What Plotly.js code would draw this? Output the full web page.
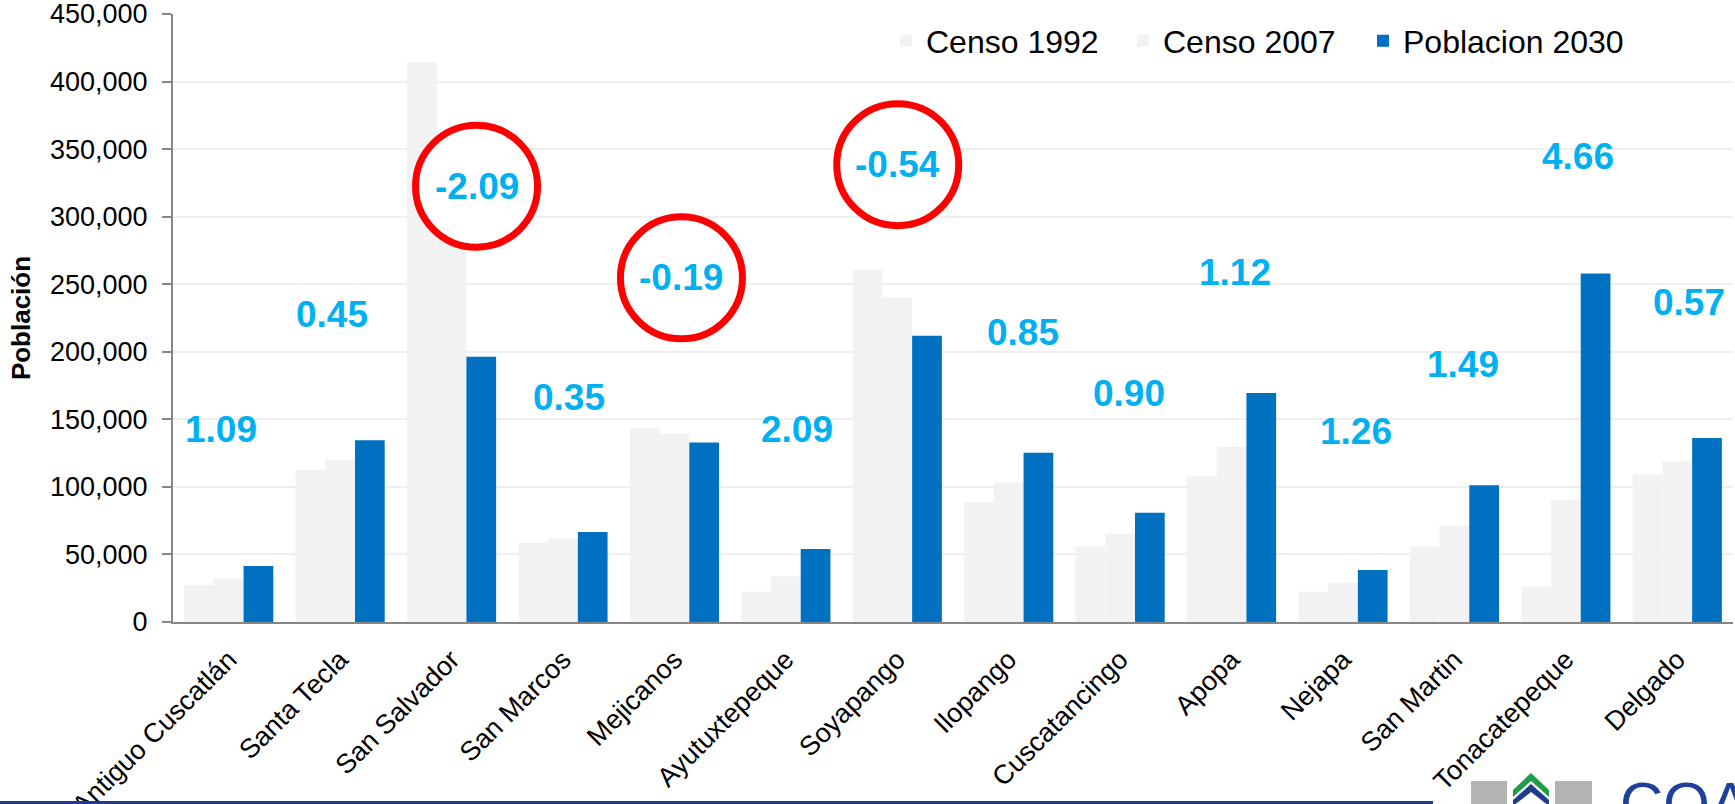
<!DOCTYPE html>
<html>
<head>
<meta charset="utf-8">
<script src="https://cdn.plot.ly/plotly-3.0.1.min.js"></script>
<style>
html,body{margin:0;padding:0;background:#fff;}
#chart{width:1735px;height:804px;}
</style>
</head>
<body>
<div id="chart"></div>
<script>
// ---- data ----
const categories = ['Antiguo Cuscatlán','Santa Tecla','San Salvador','San Marcos','Mejicanos','Ayutuxtepeque','Soyapango','Ilopango','Cuscatancingo','Apopa','Nejapa','San Martin','Tonacatepeque','Delgado'];
const censo1992 = [27400, 112700, 414200, 58700, 143800, 22500, 260900, 88800, 55800, 107800, 22500, 55800, 25700, 109200];
const censo2007 = [32300, 120300, 316000, 61700, 139300, 33600, 240400, 103100, 65400, 129700, 28900, 71500, 90500, 118900];
const poblacion2030 = [41400, 134600, 196300, 66600, 132900, 54000, 211800, 125300, 80900, 169400, 38500, 101300, 257900, 136100];
const tasas = ['1.09','0.45','-2.09','0.35','-0.19','2.09','-0.54','0.85','0.90','1.12','1.26','1.49','4.66','0.57'];
const circled = ['San Salvador','Mejicanos','Soyapango'];
const seriesNames = ['Censo 1992','Censo 2007','Poblacion 2030'];
const yTickVals = [0,50000,100000,150000,200000,250000,300000,350000,400000,450000];

// ---- label placement (annotation positions, in axis units) ----
const labelX = [-0.072, 0.926, 2.224, 3.052, 4.063, 5.098, 6.004, 7.129, 8.081, 9.035, 10.121, 11.077, 12.11, 13.105];
const labelY = [142700, 227900, 322500, 166000, 254700, 142500, 338500, 214000, 168900, 258400, 141300, 190600, 344700, 236500];

// ---- layout geometry ----
const W = 1735, H = 804;
const M = {l:173, r:2, t:14, b:182};
const PW = W - M.l - M.r, PH = H - M.t - M.b;
const px = x => (x - M.l) / PW;      // pixel -> paper x
const py = y => (H - M.b - y) / PH;  // pixel -> paper y

const FONT = 'Liberation Sans, Arial, sans-serif';
const GRAY = '#F2F2F2', BLUE = '#0070C0', LABEL = '#00B0F0';

const traces = [
  {type:'bar', name:seriesNames[0], x:categories, y:censo1992, marker:{color:GRAY}, legend:'legend'},
  {type:'bar', name:seriesNames[1], x:categories, y:censo2007, marker:{color:GRAY}, legend:'legend2'},
  {type:'bar', name:seriesNames[2], x:categories, y:poblacion2030, marker:{color:BLUE}, legend:'legend3'}
];

const annotations = tasas.map((t,i) => ({
  x: labelX[i], y: labelY[i], xref:'x', yref:'y',
  text: t, showarrow:false,
  font:{family:FONT, size:37, color:LABEL, weight:700}
}));

const shapes = [];
categories.forEach((c,i) => {
  if (circled.indexOf(c) >= 0) {
    shapes.push({
      type:'circle', xref:'x', yref:'y', xsizemode:'pixel', ysizemode:'pixel',
      xanchor: labelX[i], yanchor: labelY[i],
      x0:-61, x1:61, y0:-61, y1:61,
      line:{color:'#FF0000', width:7}, fillcolor:'#FFFFFF', layer:'above'
    });
  }
});
// footer band line
shapes.push({type:'rect', xref:'paper', yref:'paper', x0:px(0), x1:px(1433), y0:py(804), y1:py(801),
  line:{width:0}, fillcolor:'#203C8C', layer:'above'});
// logo blocks
shapes.push({type:'rect', xref:'paper', yref:'paper', x0:px(1471), x1:px(1507), y0:py(806), y1:py(781),
  line:{width:0}, fillcolor:'#B3B3B3', layer:'above'});
shapes.push({type:'rect', xref:'paper', yref:'paper', x0:px(1555), x1:px(1592), y0:py(806), y1:py(781),
  line:{width:0}, fillcolor:'#B3B3B3', layer:'above'});
shapes.push({type:'path', xref:'paper', yref:'paper',
  path:`M ${px(1513)} ${py(790)} L ${px(1531)} ${py(773)} L ${px(1549)} ${py(790)} L ${px(1549)} ${py(797)} L ${px(1531)} ${py(781)} L ${px(1513)} ${py(797)} Z`,
  line:{width:0}, fillcolor:'#1E9E4A', layer:'above'});
shapes.push({type:'path', xref:'paper', yref:'paper',
  path:`M ${px(1513)} ${py(800)} L ${px(1531)} ${py(784)} L ${px(1549)} ${py(800)} L ${px(1549)} ${py(806)} L ${px(1531)} ${py(792)} L ${px(1513)} ${py(806)} Z`,
  line:{width:0}, fillcolor:'#203C8C', layer:'above'});

annotations.push({xref:'paper', yref:'paper', x:px(1618), y:py(768), xanchor:'left', yanchor:'top',
  text:'COA', showarrow:false, font:{family:FONT, size:60, color:'#21409A'}});

const legendBase = (xpix) => ({orientation:'h', x:px(xpix), y:py(41), xanchor:'left', yanchor:'middle',
  font:{family:FONT, size:32, color:'#000'}, bgcolor:'rgba(0,0,0,0)'});

const layout = {
  width:W, height:H,
  margin:M,
  paper_bgcolor:'#FFFFFF', plot_bgcolor:'#FFFFFF',
  font:{family:FONT, color:'#000000'},
  barmode:'group', bargap:0.2, bargroupgap:0,
  showlegend:true,
  legend:legendBase(886),
  legend2:legendBase(1123),
  legend3:legendBase(1363),
  xaxis:{type:'category', showline:true, linecolor:'#868686', linewidth:2,
    ticks:'', tickangle:-45, tickfont:{family:FONT, size:27, color:'#000'},
    ticklabelstandoff:9, ticklabeloverflow:'allow', showgrid:false, zeroline:false, fixedrange:true},
  yaxis:{range:[0,450000], tickvals:yTickVals, tickformat:',d',
    showline:true, linecolor:'#868686', linewidth:2,
    ticks:'outside', ticklen:9, tickwidth:2, tickcolor:'#868686',
    tickfont:{family:FONT, size:27, color:'#000'}, ticklabelstandoff:9, ticklabeloverflow:'allow',
    showgrid:true, gridcolor:'#EFEFEF', gridwidth:2, zeroline:false,
    title:{text:'Población', font:{family:FONT, size:26, color:'#000', weight:700}, standoff:12}},
  annotations:annotations,
  shapes:shapes
};

Plotly.newPlot('chart', traces, layout, {displayModeBar:false, staticPlot:true});
</script>
</body>
</html>
